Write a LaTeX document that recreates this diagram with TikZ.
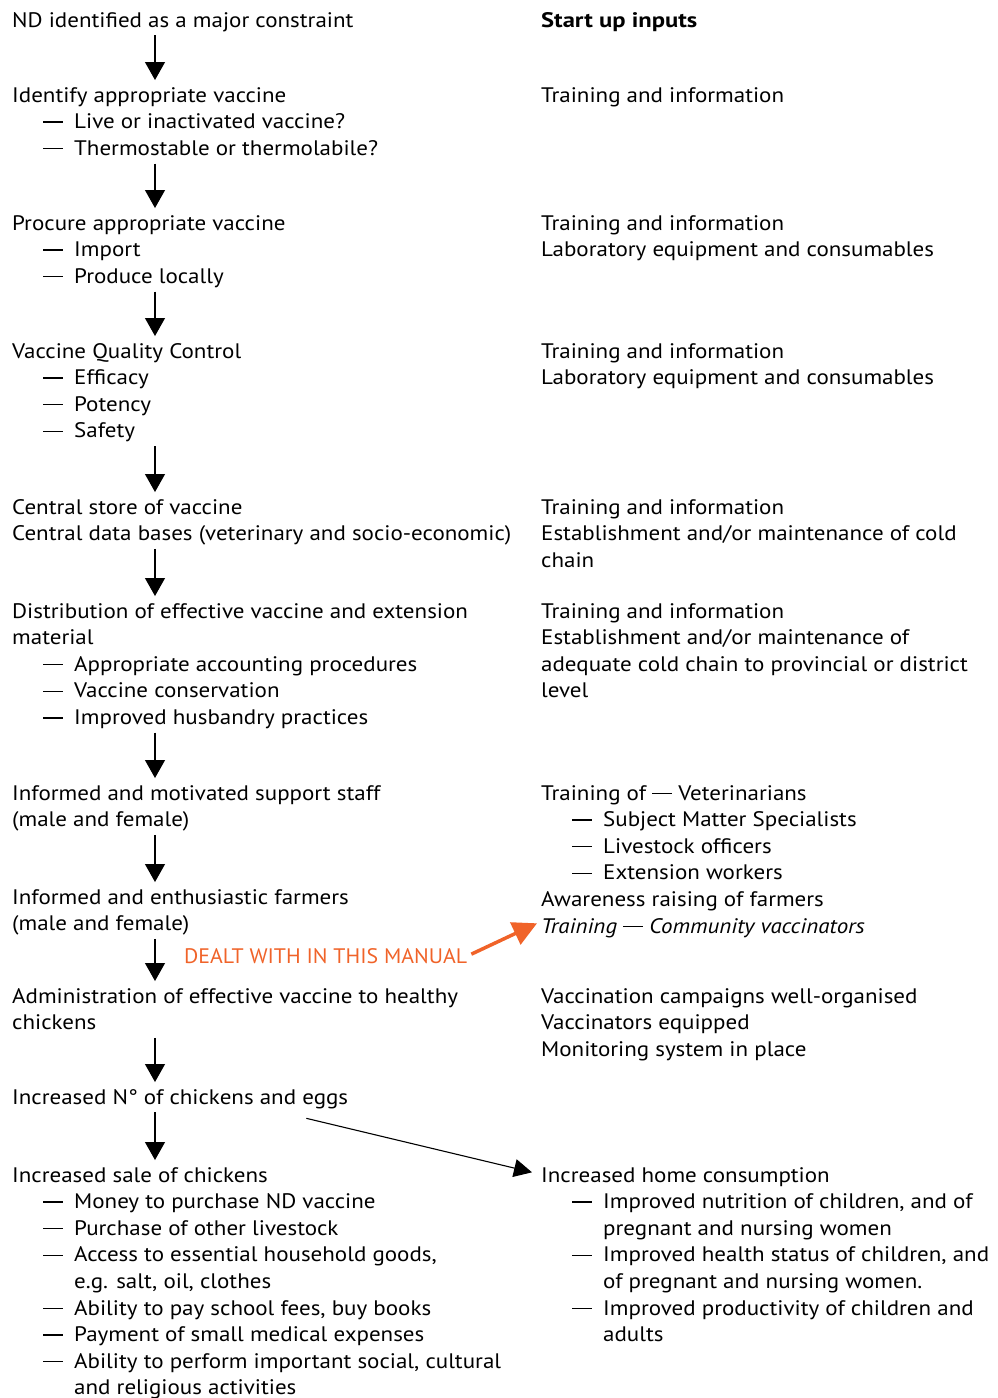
\documentclass[tikz,border=0pt]{standalone}
\usepackage{fontspec}
\setmainfont{PT Sans}[FakeStretch=1.095]
\newfontfamily\headfont{PT Sans}[FakeStretch=1.17]
\newfontfamily\dealtfont{PT Sans}[FakeStretch=1.04]
\usetikzlibrary{arrows.meta,calc}
\definecolor{dealtcol}{RGB}{240,99,41}
\newcommand\dsh{\rule[6pt]{20pt}{1.4pt}}
\newcommand\subi[1]{\hspace*{31pt}\makebox[31pt][l]{\dsh}#1}
\newcommand\conti[1]{\hspace*{62pt}#1}
\newcommand\BL[1]{-#1+18.69}
\tikzset{
  blk/.style={anchor=north west, inner sep=0pt, align=left, font=\fontsize{21}{26.6}\selectfont},
  flow/.style={-{Triangle[length=18pt,width=20pt]}, line width=1.1pt, shorten >=3.3pt},
  diag/.style={-{Triangle[length=18pt,width=18pt]}, line width=1.1pt},
  dealtarrow/.style={-{Triangle[length=24pt,width=24pt]}, line width=3.5pt, draw=dealtcol},
  dealtlabel/.style={anchor=base west, inner sep=0pt, text=dealtcol, font=\dealtfont\fontsize{21}{26.6}\selectfont},
}
\begin{document}
\begin{tikzpicture}[x=1pt,y=1pt]
\useasboundingbox (0,0) rectangle (997,-1398);
\coordinate (ax) at (155,0);
% left column
\node[blk] (l1) at (12,\BL{27}) {\strut ND identified as a major constraint};
\node[blk] (l2) at (12,\BL{102}) {\strut Identify appropriate vaccine\\ \strut\subi{Live or inactivated vaccine?}\\ \strut\subi{Thermostable or thermolabile?}};
\node[blk] (l3) at (12,\BL{230}) {\strut Procure appropriate vaccine\\ \strut\subi{Import}\\ \strut\subi{Produce locally}};
\node[blk] (l4) at (12,\BL{358}) {\strut Vaccine Quality Control\\ \strut\subi{Efficacy}\\ \strut\subi{Potency}\\ \strut\subi{Safety}};
\node[blk] (l5) at (12,\BL{514}) {\strut Central store of vaccine\\ \strut Central data bases (veterinary and socio-economic)};
\node[blk] (l6) at (12,\BL{618}) {\strut Distribution of effective vaccine and extension\\ \strut material\\ \strut\subi{Appropriate accounting procedures}\\ \strut\subi{Vaccine conservation}\\ \strut\subi{Improved husbandry practices}};
\node[blk] (l7) at (12,\BL{800}) {\strut Informed and motivated support staff\\ \strut (male and female)};
\node[blk] (l8) at (12,\BL{904}) {\strut Informed and enthusiastic farmers\\ \strut (male and female)};
\node[blk] (l9) at (12,\BL{1003}) {\strut Administration of effective vaccine to healthy\\ \strut chickens};
\node[blk] (l10) at (12,\BL{1104}) {\strut Increased N° of chickens and eggs};
\node[blk] (l11) at (12,\BL{1182}) {\strut Increased sale of chickens\\ \strut\subi{Money to purchase ND vaccine}\\ \strut\subi{Purchase of other livestock}\\ \strut\subi{Access to essential household goods,}\\ \strut\conti{e.g. salt, oil, clothes}\\ \strut\subi{Ability to pay school fees, buy books}\\ \strut\subi{Payment of small medical expenses}\\ \strut\subi{Ability to perform important social, cultural}\\ \strut\conti{and religious activities}};
% right column
\node[blk] (r1) at (541,\BL{27}) {\strut\headfont\bfseries Start up inputs};
\node[blk] (r2) at (541,\BL{102}) {\strut Training and information};
\node[blk] (r3) at (541,\BL{230}) {\strut Training and information\\ \strut Laboratory equipment and consumables};
\node[blk] (r4) at (541,\BL{358}) {\strut Training and information\\ \strut Laboratory equipment and consumables};
\node[blk] (r5) at (541,\BL{514}) {\strut Training and information\\ \strut Establishment and/or maintenance of cold\\ \strut chain};
\node[blk] (r6) at (541,\BL{618}) {\strut Training and information\\ \strut Establishment and/or maintenance of\\ \strut adequate cold chain to provincial or district\\ \strut level};
\node[blk] (r7) at (541,\BL{800}) {\strut Training of \dsh{} Veterinarians\\ \strut\subi{Subject Matter Specialists}\\ \strut\subi{Livestock officers}\\ \strut\subi{Extension workers}\\ \strut Awareness raising of farmers\\ \strut\textit{Training \dsh{} Community vaccinators}};
\node[blk] (r8) at (541,\BL{1003}) {\strut Vaccination campaigns well-organised\\ \strut Vaccinators equipped\\ \strut Monitoring system in place};
\node[blk] (r9) at (541,\BL{1182}) {\strut Increased home consumption\\ \strut\subi{Improved nutrition of children, and of}\\ \strut\conti{pregnant and nursing women}\\ \strut\subi{Improved health status of children, and}\\ \strut\conti{of pregnant and nursing women.}\\ \strut\subi{Improved productivity of children and}\\ \strut\conti{adults}};
\node[dealtlabel] (dealt) at (184,-963.5) {DEALT WITH IN THIS MANUAL};
% connectors
\draw[flow] (l1.south -| ax) -- (l2.north -| ax);
\draw[flow] (l2.south -| ax) -- (l3.north -| ax);
\draw[flow] (l3.south -| ax) -- (l4.north -| ax);
\draw[flow] (l4.south -| ax) -- (l5.north -| ax);
\draw[flow] (l5.south -| ax) -- (l6.north -| ax);
\draw[flow] (l6.south -| ax) -- (l7.north -| ax);
\draw[flow] (l7.south -| ax) -- (l8.north -| ax);
\draw[flow] (l8.south -| ax) -- (l9.north -| ax);
\draw[flow] (l9.south -| ax) -- (l10.north -| ax);
\draw[flow] (l10.south -| ax) -- (l11.north -| ax);
\draw[diag] ([shift={(-42,-6)}]l10.south east) -- ([shift={(-9,-9)}]r9.north west);
\draw[dealtarrow] ([shift={(4,2)}]dealt.east) -- ([shift={(-4,18)}]r7.south west);
\end{tikzpicture}
\end{document}
